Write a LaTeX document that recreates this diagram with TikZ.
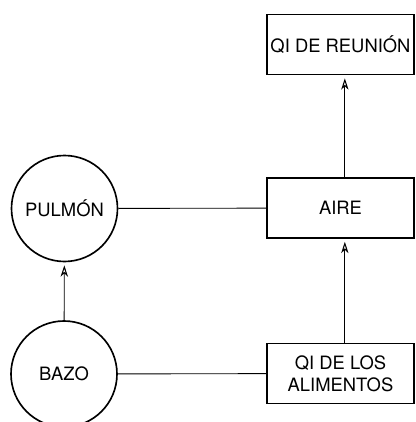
\documentclass[tikz,border=0pt]{standalone}
\usepackage{fontspec}
\setmainfont{TeX Gyre Heros}
\usetikzlibrary{positioning, arrows.meta}
\tikzstyle{pixelGrid} = [x = .03cm, y = -.03cm]
\tikzstyle{labelFont} = [font=\fontsize{15.7}{18.5}\selectfont, align=center, inner sep=0pt]
\tikzstyle{qiBox} = [labelFont, draw, line width=1.4pt, minimum width=4.41cm, minimum height=1.8cm]
\tikzstyle{organCircle} = [labelFont, draw, circle, line width=1.4pt, minimum size=3.18cm]
\tikzstyle{linkLine} = [line width=.75pt]
\tikzstyle{flowArrow} = [linkLine, -{Stealth[open, length=.34cm, width=.22cm, inset=.1cm, line width=.9pt]}, shorten >=.09cm]
\newcommand{\arrowShift}{.13cm}

\begin{document}
\begin{tikzpicture}[pixelGrid]
      \useasboundingbox (0,0) rectangle (415,422);

      % right column
      \node[qiBox] (reunion) at (340.5, 44.5) {QI DE REUNIÓN};
      \node[qiBox] (aire) at (340.5, 208) {AIRE};
      \node[qiBox] (alimentos) at (340.5, 373.5) {QI DE LOS\\ALIMENTOS};

      % left column
      \node[organCircle] (pulmon) at (64.5, 208.5) {PULMÓN};
      \node[organCircle] (bazo) at (64, 374) {BAZO};

      \draw[linkLine] (pulmon) -- (aire);
      \draw[linkLine] (bazo) -- (alimentos);

      \draw[flowArrow] (bazo) -- (pulmon);
      \draw[flowArrow] ([xshift=\arrowShift]alimentos.north) -- ([xshift=\arrowShift]aire.south);
      \draw[flowArrow] ([xshift=\arrowShift]aire.north) -- ([xshift=\arrowShift]reunion.south);
    \end{tikzpicture}
\end{document}
